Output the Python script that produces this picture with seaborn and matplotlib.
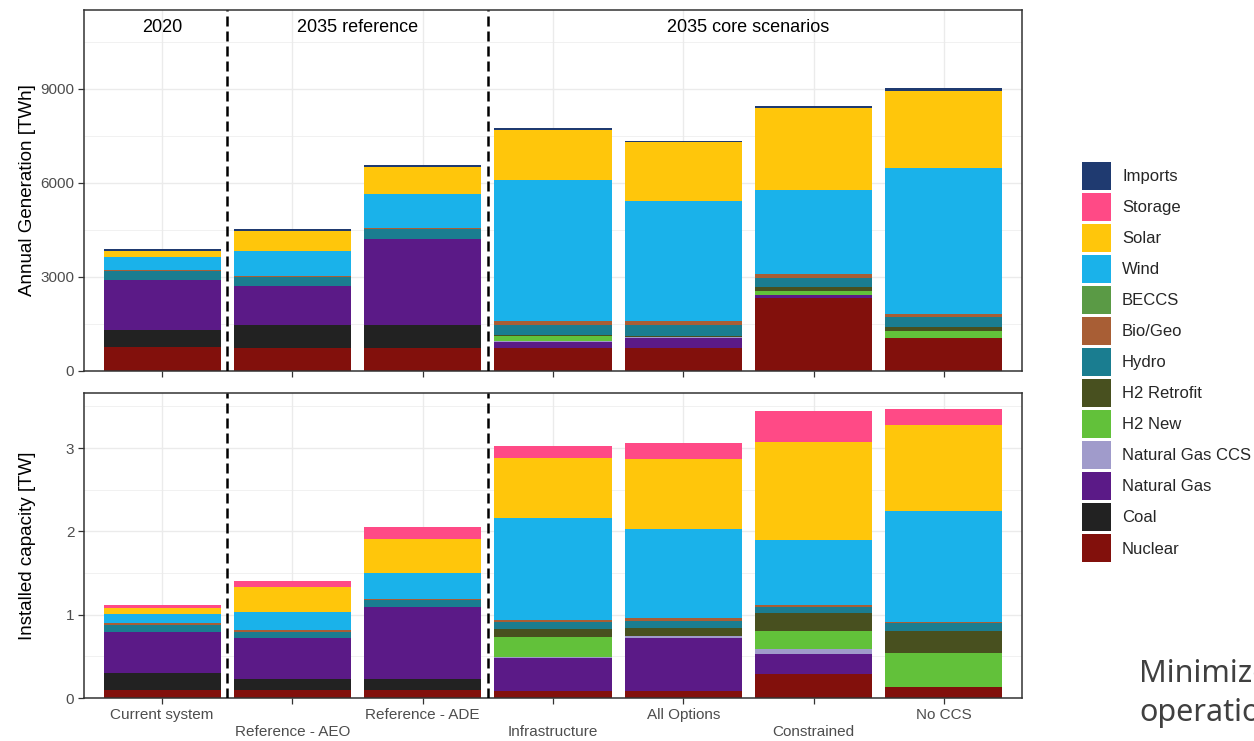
import numpy as np
import pandas as pd
import matplotlib
matplotlib.use("Agg")
import matplotlib.pyplot as plt
import seaborn as sns
from matplotlib.patches import Patch
from matplotlib.ticker import MultipleLocator, FixedLocator

scenarios = ["Current system", "Reference - AEO", "Reference - ADE",
             "Infrastructure", "All Options", "Constrained", "No CCS"]

# stacking order: first entry on top, last at the bottom
sources = ["Imports", "Storage", "Solar", "Wind", "BECCS", "Bio/Geo", "Hydro",
           "H2 Retrofit", "H2 New", "Natural Gas CCS", "Natural Gas", "Coal", "Nuclear"]
source_colors = ["#1F3A70", "#FF4A86", "#FFC60B", "#1AB2EA", "#5A9A45", "#A85E35",
                 "#1A7D90", "#48501F", "#62C13A", "#A09BCB", "#5B1A87", "#222222",
                 "#82100C"]

# Annual generation [TWh]
gen_imports = [64, 64, 54, 53, 53, 74, 75]
gen_storage = [0, 0, 0, 0, 0, 0, 0]
gen_solar = [181, 628, 861, 1596, 1861, 2607, 2457]
gen_wind = [426, 798, 1096, 4510, 3851, 2681, 4671]
gen_beccs = [0, 0, 0, 0, 0, 0, 0]
gen_biogeo = [31, 42, 42, 110, 130, 138, 106]
gen_hydro = [277, 287, 319, 340, 340, 287, 298]
gen_h2_retrofit = [0, 0, 0, 30, 20, 107, 128]
gen_h2_new = [0, 0, 0, 160, 0, 138, 223]
gen_natgas_ccs = [0, 0, 0, 20, 53, 0, 0]
gen_natgas = [1616, 1225, 2725, 202, 319, 106, 0]
gen_coal = [523, 734, 734, 0, 0, 0, 0]
gen_nuclear = [776, 744, 744, 724, 724, 2320, 1064]

# Installed capacity [TW]
cap_imports = [0, 0, 0, 0, 0, 0, 0]
cap_storage = [0.032, 0.080, 0.137, 0.148, 0.192, 0.372, 0.192]
cap_solar = [0.076, 0.292, 0.416, 0.720, 0.840, 1.180, 1.028]
cap_wind = [0.112, 0.220, 0.308, 1.221, 1.077, 0.781, 1.333]
cap_beccs = [0, 0, 0, 0, 0, 0, 0]
cap_biogeo = [0.020, 0.020, 0.012, 0.028, 0.028, 0.020, 0.020]
cap_hydro = [0.080, 0.080, 0.088, 0.084, 0.088, 0.080, 0.088]
cap_h2_retrofit = [0, 0, 0, 0.088, 0.092, 0.212, 0.272]
cap_h2_new = [0, 0, 0, 0.240, 0, 0.220, 0.408]
cap_natgas_ccs = [0, 0, 0, 0.020, 0.032, 0.056, 0]
cap_natgas = [0.492, 0.492, 0.860, 0.388, 0.628, 0.240, 0]
cap_coal = [0.208, 0.128, 0.132, 0, 0, 0, 0]
cap_nuclear = [0.096, 0.096, 0.096, 0.088, 0.088, 0.288, 0.128]

group_labels = ["2020", "2035 reference", "2035 core scenarios"]

generation = [gen_imports, gen_storage, gen_solar, gen_wind, gen_beccs, gen_biogeo,
              gen_hydro, gen_h2_retrofit, gen_h2_new, gen_natgas_ccs, gen_natgas,
              gen_coal, gen_nuclear]
capacity = [cap_imports, cap_storage, cap_solar, cap_wind, cap_beccs, cap_biogeo,
            cap_hydro, cap_h2_retrofit, cap_h2_new, cap_natgas_ccs, cap_natgas,
            cap_coal, cap_nuclear]


def to_long(table):
    rows = []
    for src, vals in zip(sources, table):
        for i, v in enumerate(vals):
            rows.append({"pos": i, "scenario": scenarios[i], "source": src, "value": v})
    return pd.DataFrame(rows)


df_gen = to_long(generation)
df_cap = to_long(capacity)

sns.set_style("whitegrid")
plt.rcParams["font.family"] = ["Liberation Sans", "DejaVu Sans"]

W, H = 1254, 741
fig = plt.figure(figsize=(W / 100, H / 100), dpi=100)
left = 84 / W
width = 938 / W
ax_top = fig.add_axes([left, 1 - 371 / H, width, 361 / H])
ax_bot = fig.add_axes([left, 1 - 698 / H, width, 305 / H])

palette = dict(zip(sources, source_colors))
for ax, df in ((ax_top, df_gen), (ax_bot, df_cap)):
    sns.histplot(data=df, x="pos", weights="value", hue="source", hue_order=sources,
                 palette=palette, multiple="stack", discrete=True, shrink=0.9,
                 linewidth=0, alpha=1, legend=False, ax=ax)

grid_col = "#EBEBEB"
for ax in (ax_top, ax_bot):
    ax.set_xlim(-0.6, 6.6)
    ax.xaxis.set_major_locator(FixedLocator(range(len(scenarios))))
    ax.grid(True, which="major", color=grid_col, linewidth=1.0)
    ax.grid(True, which="minor", axis="y", color=grid_col, linewidth=0.5)
    ax.set_axisbelow(True)
    for sp in ax.spines.values():
        sp.set_visible(True)
        sp.set_color("#333333")
        sp.set_linewidth(1.1)
    ax.tick_params(axis="both", which="major", length=4, width=0.9, color="#333333",
                   labelsize=11, labelcolor="#4D4D4D", pad=3,
                   bottom=True, left=True)
    ax.tick_params(axis="both", which="minor", length=0)
    # dashed separators between the scenario groups
    for xd in (0.5, 2.5):
        ax.axvline(xd, color="black", linestyle=(0, (4, 2)), linewidth=1.8, zorder=5)
    ax.set_xlabel("")

# top panel: generation
ax_top.set_ylim(0, 11520)
ax_top.yaxis.set_major_locator(MultipleLocator(3000))
ax_top.yaxis.set_minor_locator(MultipleLocator(1500))
ax_top.set_xticklabels([])
ax_top.set_ylabel("Annual Generation [TWh]", fontsize=13.5, color="black")
for xpos, lab in zip((0, 1.5, 4.5), group_labels):
    ax_top.text(xpos, 10950, lab, ha="center", va="center", fontsize=13, color="black")

# bottom panel: capacity
ax_bot.set_ylim(0, 3.66)
ax_bot.yaxis.set_major_locator(MultipleLocator(1))
ax_bot.yaxis.set_minor_locator(MultipleLocator(0.5))
ax_bot.set_xticklabels([s if i % 2 == 0 else "\n" + s for i, s in enumerate(scenarios)],
                       linespacing=1.3)
ax_bot.set_ylabel("Installed capacity [TW]", fontsize=13.5, color="black")
ax_top.yaxis.set_label_coords(-48 / 938, 0.5)
ax_bot.yaxis.set_label_coords(-48 / 938, 0.5)

handles = [Patch(facecolor=c, edgecolor="none") for c in source_colors]
fig.legend(handles, sources, loc="upper left",
           bbox_to_anchor=(1082 / W, 1 - 162 / H), frameon=False,
           fontsize=12, handlelength=1.74, handleheight=2.21,
           labelspacing=0.18, handletextpad=0.66, borderpad=0, borderaxespad=0)

fig.text(1139 / W, 1 - 682 / H, "Minimize", fontsize=22, color="#404040",
         family=["Noto Sans", "DejaVu Sans"], ha="left", va="baseline")
fig.text(1139 / W, 1 - 721 / H, "operation", fontsize=22, color="#404040",
         family=["Noto Sans", "DejaVu Sans"], ha="left", va="baseline")

fig.savefig("out.png", dpi=100)
